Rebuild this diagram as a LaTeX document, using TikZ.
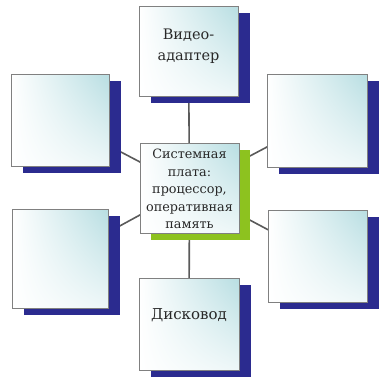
\documentclass[tikz,border=0pt]{standalone}
\usepackage{fontspec}
\setmainfont{DejaVu Serif}
\newfontfamily\panelfont{DejaVu Serif}
\usetikzlibrary{shadows,shadings,backgrounds}
\definecolor{navyshadow}{RGB}{43,43,143}
\definecolor{limeshadow}{RGB}{141,194,31}
\definecolor{boxcyan}{RGB}{184,222,226}
\definecolor{boxedge}{RGB}{128,128,128}
\definecolor{textgrey}{RGB}{40,40,40}
\tikzset{
  panel/.style={draw=boxedge, line width=0.9pt, inner sep=0pt,
    upper left=white, lower left=white, upper right=boxcyan, lower right=boxcyan!25,
    minimum width=#1},
  navy/.style={general shadow={fill=navyshadow, shadow xshift=12pt, shadow yshift=-7pt}},
  lime/.style={general shadow={fill=limeshadow, shadow xshift=11pt, shadow yshift=-7pt}},
  caption/.style={text=textgrey, align=center, inner sep=0pt},
  link/.style={draw=boxedge!70!black, line width=1.6pt}
}
\begin{document}
\begin{tikzpicture}[x=1pt,y=-1pt]
\useasboundingbox (0,0) rectangle (379,389);

% peripheral blocks
\node[panel=99pt, minimum height=90pt, navy] (video) at (188.5,51) {};
\node[panel=98pt, minimum height=92pt, navy] (lt) at (60,120) {};
\node[panel=100pt, minimum height=93pt, navy] (rt) at (317,120.5) {};
\node[panel=96pt, minimum height=99pt, navy] (lb) at (60,258.5) {};
\node[panel=99pt, minimum height=92pt, navy] (rb) at (317.5,256) {};
\node[panel=100pt, minimum height=92pt, navy] (disk) at (189,324) {};

% system board
\node[panel=99pt, minimum height=90pt, lime] (board) at (189.5,188) {};

% labels
\node[caption, font=\panelfont\fontsize{14.5}{21}\selectfont] (videotxt) at (188.5,46) {Видео-\\адаптер};
\node[caption, font=\panelfont\fontsize{12.8}{17.5}\selectfont] (boardtxt) at (189.5,189) {Системная\\плата:\\процессор,\\оперативная\\память};
\node[caption, font=\panelfont\fontsize{15}{21}\selectfont] (disktxt) at (189,315) {Дисковод};

% page background and connectors, behind everything
\begin{scope}[on background layer]
  \fill[white] (0,0) rectangle (379,389);
  \draw[link] (board.center) -- (video.center);
  \draw[link] (board.center) -- (disk.center);
  \draw[link] (board.center) -- (lt.center);
  \draw[link] (board.center) -- (lb.center);
  \draw[link] (board.center) -- (rt.center);
  \draw[link] (board.center) -- (rb.center);
\end{scope}
\end{tikzpicture}
\end{document}
